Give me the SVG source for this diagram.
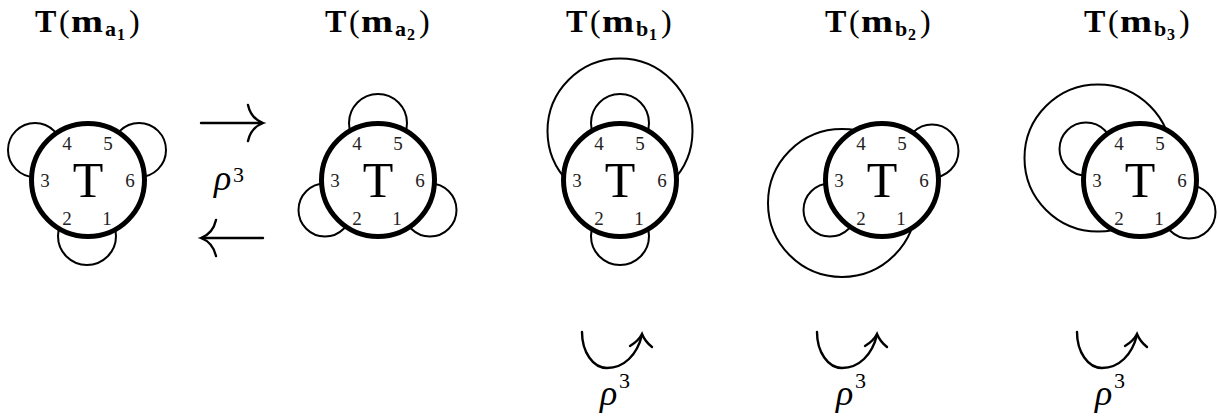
<svg xmlns="http://www.w3.org/2000/svg" width="1218" height="419" viewBox="0 0 1218 419">
<style>
.loop{fill:none;stroke:#000;stroke-width:2}
.main{fill:#fff;stroke:#000;stroke-width:5}
.num{font-family:"Liberation Serif",serif;font-size:19px;fill:#222;text-anchor:middle}
.big{font-family:"Liberation Serif",serif;font-size:50px;fill:#000;text-anchor:middle}
.tt{font-family:"Liberation Serif",serif;font-size:32px;fill:#000}
.bf{font-weight:bold}
.sb{font-size:22px}
.ssb{font-size:16px}
.arr{fill:none;stroke:#000;stroke-width:2.4;stroke-linecap:round}
.rho{font-family:"Liberation Serif",serif;font-style:italic;font-size:36px;fill:#000}
.sup{font-family:"Liberation Serif",serif;font-size:22px;fill:#000}
</style>
<defs>
<g id="labels">
<text class="num" x="-21" y="-30">4</text>
<text class="num" x="20" y="-30">5</text>
<text class="num" x="-43" y="7">3</text>
<text class="num" x="42" y="7">6</text>
<text class="num" x="-21" y="45">2</text>
<text class="num" x="19" y="45">1</text>
<text class="big" x="0" y="17">T</text>
</g>
</defs>

<g id="titles">
<g id="title-a1">
<text class="tt" y="32"><tspan class="bf" x="35">T</tspan><tspan x="59">(</tspan></text>
<text class="tt bf" x="71" y="32" textLength="32" lengthAdjust="spacingAndGlyphs">m</text>
<text class="tt bf sb" x="105" y="36">a</text>
<text class="tt bf ssb" x="117" y="40">1</text>
<text class="tt" x="129" y="32">)</text>
</g>
<g id="title-a2">
<text class="tt" y="32"><tspan class="bf" x="325">T</tspan><tspan x="349">(</tspan></text>
<text class="tt bf" x="361" y="32" textLength="32" lengthAdjust="spacingAndGlyphs">m</text>
<text class="tt bf sb" x="395" y="36">a</text>
<text class="tt bf ssb" x="407" y="40">2</text>
<text class="tt" x="419" y="32">)</text>
</g>
<g id="title-b1">
<text class="tt" y="32"><tspan class="bf" x="566">T</tspan><tspan x="590">(</tspan></text>
<text class="tt bf" x="602" y="32" textLength="32" lengthAdjust="spacingAndGlyphs">m</text>
<text class="tt bf sb" x="636" y="36">b</text>
<text class="tt bf ssb" x="649" y="40">1</text>
<text class="tt" x="661" y="32">)</text>
</g>
<g id="title-b2">
<text class="tt" y="32"><tspan class="bf" x="825">T</tspan><tspan x="849">(</tspan></text>
<text class="tt bf" x="861" y="32" textLength="32" lengthAdjust="spacingAndGlyphs">m</text>
<text class="tt bf sb" x="895" y="36">b</text>
<text class="tt bf ssb" x="908" y="40">2</text>
<text class="tt" x="920" y="32">)</text>
</g>
<g id="title-b3">
<text class="tt" y="32"><tspan class="bf" x="1084">T</tspan><tspan x="1108">(</tspan></text>
<text class="tt bf" x="1120" y="32" textLength="32" lengthAdjust="spacingAndGlyphs">m</text>
<text class="tt bf sb" x="1154" y="36">b</text>
<text class="tt bf ssb" x="1167" y="40">3</text>
<text class="tt" x="1179" y="32">)</text>
</g>
</g>

<g id="node-a1">
<circle class="loop" cx="35" cy="150" r="27"/>
<circle class="loop" cx="139" cy="150" r="27"/>
<circle class="loop" cx="87" cy="236" r="29"/>
<circle class="main" cx="88" cy="180" r="56.5"/>
<use href="#labels" x="88" y="180"/>
</g>

<g id="node-a2">
<circle class="loop" cx="378" cy="123" r="29"/>
<circle class="loop" cx="325" cy="210" r="26.5"/>
<circle class="loop" cx="430" cy="210" r="26.5"/>
<circle class="main" cx="378" cy="180" r="56.5"/>
<use href="#labels" x="378" y="180"/>
</g>

<g id="node-b1">
<circle class="loop" cx="620" cy="131" r="72.5"/>
<circle class="loop" cx="620" cy="123" r="29"/>
<circle class="loop" cx="620" cy="236" r="29"/>
<circle class="main" cx="620" cy="180" r="56.5"/>
<use href="#labels" x="620" y="180"/>
</g>

<g id="node-b2">
<circle class="loop" cx="842" cy="203" r="74"/>
<circle class="loop" cx="932" cy="151" r="26.5"/>
<circle class="loop" cx="830" cy="210" r="26.5"/>
<circle class="main" cx="882" cy="180" r="56.5"/>
<use href="#labels" x="882" y="180"/>
</g>

<g id="node-b3">
<circle class="loop" cx="1098" cy="158" r="73.5"/>
<circle class="loop" cx="1086" cy="149" r="26.5"/>
<circle class="loop" cx="1189" cy="212" r="26.5"/>
<circle class="main" cx="1140" cy="180" r="56.5"/>
<use href="#labels" x="1140" y="180"/>
</g>

<g id="connectors">
<path class="arr" d="M201,123 H262"/>
<path class="arr" d="M248,105 C250,114 255,120 263,123 C255,126 250,132 248,141"/>
<path class="arr" d="M202,238 H263"/>
<path class="arr" d="M216,220 C214,229 209,235 201,238 C209,241 214,247 216,256"/>
<g id="rot1">
<path class="arr" d="M582,332 C582,352 593,368 607,368 C624,368 637,355 642,335"/>
<path class="arr" d="M630,346 C635,343 640,338 642,334 C644,339 647,343 652,347"/>
</g>
<g id="rot2">
<path class="arr" d="M817,332 C817,352 828,368 842,368 C859,368 872,355 877,335"/>
<path class="arr" d="M865,346 C870,343 875,338 877,334 C879,339 882,343 887,347"/>
</g>
<g id="rot3">
<path class="arr" d="M1077,332 C1077,352 1088,368 1102,368 C1119,368 1132,355 1137,335"/>
<path class="arr" d="M1125,346 C1130,343 1135,338 1137,334 C1139,339 1142,343 1147,347"/>
</g>
</g>

<g id="rho-labels">
<text class="rho" x="214" y="190">ρ</text><text class="sup" x="233" y="182">3</text>
<text class="rho" x="600" y="405">ρ</text><text class="sup" x="619" y="388">3</text>
<text class="rho" x="836" y="405">ρ</text><text class="sup" x="855" y="388">3</text>
<text class="rho" x="1095" y="405">ρ</text><text class="sup" x="1114" y="388">3</text>
</g>
</svg>
